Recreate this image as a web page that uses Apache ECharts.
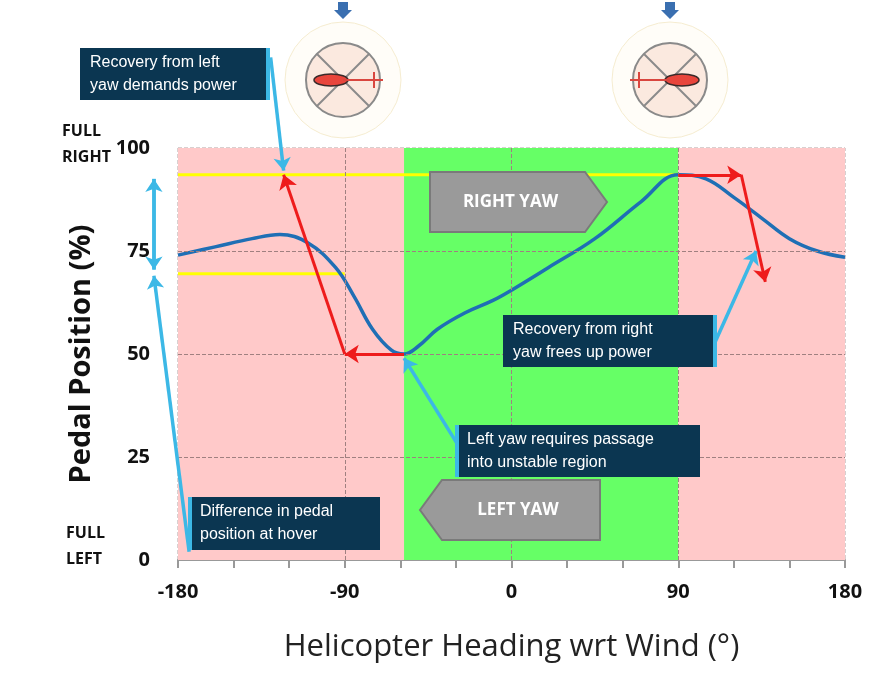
<!DOCTYPE html>
<html><head><meta charset="utf-8">
<script src="https://cdn.jsdelivr.net/npm/echarts@6/dist/echarts.min.js"></script>
<style>html,body{margin:0;background:#fff}#c{width:886px;height:700px}</style>
</head><body><div id="c"></div>
<script>
// pedal curve, heading vs pedal %
const heading = [-180,-160,-140,-125,-110,-95,-85,-75,-65,-58,-50,-40,-25,-10,0,20,45,70,90,105,120,135,150,165,180];
const pedal = [74,76,78,79,77,71,64,56,51,50,52,56,60,63,65.5,71,78,87,93.5,92.5,88,83,78,75,73.5];
const xTicks = [-180,-90,0,90,180];
const yTicks = [0,25,50,75,100];
const unstableLeft = [-180,-58];
const stable = [-58,90];
const unstableRight = [90,180];
const hoverLevel = 93.5, yawLevel = 69.5;
const redPath = [
  [[-58,50],[-90,50]], [[-90,50],[-123,93.5]],
  [[90,93.5],[124,93.5]], [[124,93.5],[137,67.5]]
];
const cyanPath = [
  [[-130,122],[-123,94.5]],
  [[109,52],[132,75]],
  [[-29,28],[-58,49]],
  [[-174,2],[-193,69]],
  [[-193,92.5],[-193,70.5]], [[-193,70.5],[-193,92.5]]
];

const chart = echarts.init(document.getElementById('c'));
const dash = {color:'#a08080', type:'dashed', width:1};
const box = (x,y,w,h,text,barX) => ({type:'group', z:100, children:[
  {type:'rect', z:100, shape:{x, y, width:w, height:h}, style:{fill:'#0b3651'}},
  {type:'rect', z:101, shape:{x:barX, y, width:4, height:h}, style:{fill:'#3cb8e6'}},
  {type:'text', z:102, x:x+(barX===x?12:10), y:y+h/2, style:{text, fill:'#fff', font:'16px Arial', lineHeight:23, verticalAlign:'middle'}}
]});
const yawArrow = (x,y,w,h,text,right) => {
  const n = 22;
  const pts = right
    ? [[x,y],[x+w-n,y],[x+w,y+h/2],[x+w-n,y+h],[x,y+h]]
    : [[x+n,y],[x+w,y],[x+w,y+h],[x+n,y+h],[x,y+h/2]];
  return {type:'group', z:100, children:[
    {type:'polygon', z:100, shape:{points:pts}, style:{fill:'#9a9a9a', stroke:'#7a7a7a', lineWidth:2}},
    {type:'text', z:101, x:x+w/2+(right?-8:8), y:y+h/2, style:{text, fill:'#fff', font:'bold 17px "Open Sans"', align:'center', verticalAlign:'middle'}}
  ]};
};
const heli = (cx, facing) => ({type:'group', children:[
  {type:'polygon', shape:{points:[[cx-5,2],[cx+5,2],[cx+5,10],[cx+9,10],[cx,19],[cx-9,10],[cx-5,10]]}, style:{fill:'#3a6fb0'}},
  {type:'circle', shape:{cx, cy:80, r:58}, style:{fill:'#fffdf8', stroke:'#f5ecd0', lineWidth:1}},
  {type:'circle', shape:{cx, cy:80, r:37}, style:{fill:'#fbe9df', stroke:'#8a8a8a', lineWidth:2}},
  {type:'line', shape:{x1:cx-26, y1:54, x2:cx+26, y2:106}, style:{stroke:'#8a8a8a', lineWidth:2}},
  {type:'line', shape:{x1:cx+26, y1:54, x2:cx-26, y2:106}, style:{stroke:'#8a8a8a', lineWidth:2}},
  {type:'ellipse', shape:{cx:cx-facing*12, cy:80, rx:17, ry:6}, style:{fill:'#e8453c', stroke:'#3a2a2a', lineWidth:1.5}},
  {type:'line', shape:{x1:cx, y1:80, x2:cx+facing*40, y2:80}, style:{stroke:'#d9463f', lineWidth:2}},
  {type:'line', shape:{x1:cx+facing*31, y1:72, x2:cx+facing*31, y2:88}, style:{stroke:'#d9463f', lineWidth:2}}
]});

chart.setOption({
  animation:false,
  grid:{left:178, right:41, top:148, bottom:140, show:true, borderColor:'#b0a0a0', borderWidth:1, borderType:'dashed'},
  xAxis:{type:'value', min:-180, max:180, interval:30,
    name:'Helicopter Heading wrt Wind (°)', nameLocation:'middle', nameGap:72,
    nameTextStyle:{fontSize:31, fontWeight:500, color:'#222', fontFamily:'Open Sans'},
    axisLine:{lineStyle:{color:'#999', width:2}}, axisTick:{length:8, lineStyle:{color:'#999', width:2}},
    axisLabel:{formatter:v => xTicks.includes(v) ? String(v) : '', fontSize:20, fontWeight:'bold', color:'#111', margin:22, fontFamily:'Open Sans'},
    splitLine:{show:false}},
  yAxis:{type:'value', min:0, max:100, interval:25,
    name:'Pedal Position (%)', nameLocation:'middle', nameGap:82, nameRotate:90,
    nameTextStyle:{fontSize:29, fontWeight:'bold', color:'#111', fontFamily:'Open Sans'},
    axisLine:{show:false}, axisTick:{show:false},
    axisLabel:{formatter:v => yTicks.includes(v) ? String(v) : '', fontSize:20, fontWeight:'bold', color:'#111', margin:28, fontFamily:'Open Sans'},
    splitLine:{show:false}},
  graphic:[
    {type:'text', left:62, top:118, style:{text:'FULL\nRIGHT', font:'bold 16px "Open Sans"', fill:'#111', align:'center', lineHeight:26}},
    {type:'text', left:66, top:520, style:{text:'FULL\nLEFT', font:'bold 16px "Open Sans"', fill:'#111', align:'center', lineHeight:26}},
    heli(343, 1), heli(670, -1),
    yawArrow(430,172,177,60,'RIGHT YAW',true),
    yawArrow(420,480,180,60,'LEFT YAW',false),
    box(80,48,190,52,'Recovery from left\nyaw demands power',266),
    box(503,315,214,52,'Recovery from right\nyaw frees up power',713),
    box(455,425,245,52,'Left yaw requires passage\ninto unstable region',455),
    box(188,497,192,53,'Difference in pedal\nposition at hover',188)
  ],
  series:[
    {type:'line', data:[], silent:true,
      markArea:{silent:true, data:[
        [{xAxis:unstableLeft[0], itemStyle:{color:'#ffc9c9'}},{xAxis:unstableLeft[1]}],
        [{xAxis:stable[0], itemStyle:{color:'#66ff66'}},{xAxis:stable[1]}],
        [{xAxis:unstableRight[0], itemStyle:{color:'#ffc9c9'}},{xAxis:unstableRight[1]}]
      ]},
      markLine:{silent:true, symbol:'none', label:{show:false}, lineStyle:dash,
        data:[{xAxis:-90},{xAxis:0},{xAxis:90},{yAxis:25},{yAxis:50},{yAxis:75}]}},
    {type:'line', z:3, symbol:'none', lineStyle:{color:'#ffff00', width:3}, data:[[-180,hoverLevel],[90,hoverLevel]]},
    {type:'line', z:3, symbol:'none', lineStyle:{color:'#ffff00', width:3}, data:[[-180,yawLevel],[-90,yawLevel]]},
    {type:'line', z:4, smooth:0.4, symbol:'none', lineStyle:{color:'#1f6fb5', width:3.5},
      data:heading.map((h,i) => [h, pedal[i]])},
    {type:'lines', coordinateSystem:'cartesian2d', z:5, symbol:['none','arrow'], symbolSize:14,
      lineStyle:{color:'#ee1c1c', width:3, opacity:1}, data:redPath.map(c => ({coords:c}))},
    {type:'lines', coordinateSystem:'cartesian2d', z:6, clip:false, symbol:['none','arrow'], symbolSize:13,
      lineStyle:{color:'#3cb8e6', width:3.5, opacity:1}, data:cyanPath.map(c => ({coords:c}))}
  ]
});
</script></body></html>
